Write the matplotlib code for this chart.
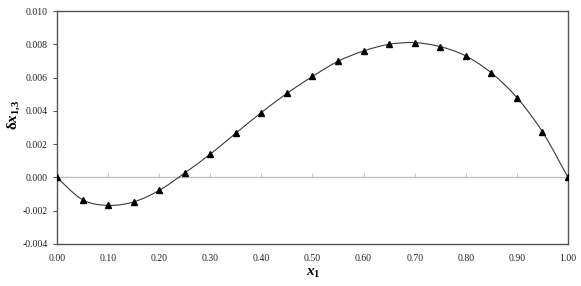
import numpy as np
import matplotlib.pyplot as plt
from matplotlib.path import Path
from matplotlib.patches import PathPatch

plt.rcParams['font.family'] = 'Liberation Serif'
plt.rcParams['mathtext.fontset'] = 'custom'
plt.rcParams['mathtext.rm'] = 'Liberation Serif:bold'
plt.rcParams['mathtext.it'] = 'Liberation Serif:italic:bold'
plt.rcParams['mathtext.bf'] = 'Liberation Serif:bold'

# data
x1 = [0.00, 0.05, 0.10, 0.15, 0.20, 0.25, 0.30, 0.35, 0.40, 0.45, 0.50,
      0.55, 0.60, 0.65, 0.70, 0.75, 0.80, 0.85, 0.90, 0.95, 1.00]
dx13 = [0.0, -0.00134, -0.00168, -0.00147, -0.00078, 0.00027, 0.0014, 0.00266,
        0.0039, 0.00505, 0.00607, 0.00698, 0.0076, 0.0080, 0.0081, 0.00786,
        0.0073, 0.00628, 0.0048, 0.00274, 0.0]
xticks = [0.0, 0.1, 0.2, 0.3, 0.4, 0.5, 0.6, 0.7, 0.8, 0.9, 1.0]
yticks = [-0.004, -0.002, 0.0, 0.002, 0.004, 0.006, 0.008, 0.010]

fig = plt.figure(figsize=(5.81, 2.86), dpi=100)
ax = fig.add_axes([0.0981, 0.1469, 0.8795, 0.8146])

# smoothed line (Excel style Catmull-Rom bezier through the points)
P = np.column_stack([x1, dx13])
ext = np.vstack([P[0], P, P[-1]])
verts = [tuple(P[0])]
codes = [Path.MOVETO]
for i in range(len(P) - 1):
    p0, p1, p2, p3 = ext[i], ext[i + 1], ext[i + 2], ext[i + 3]
    c1 = p1 + (p2 - p0) / 6
    c2 = p2 - (p3 - p1) / 6
    verts += [tuple(c1), tuple(c2), tuple(p2)]
    codes += [Path.CURVE4] * 3
ax.add_patch(PathPatch(Path(verts, codes), fill=False, edgecolor='#3a3a3a', lw=0.8, zorder=3))
ax.plot(x1, dx13, ls='none', marker='^', ms=3.8, color='black', zorder=4)

ax.set_xlim(0, 1)
ax.set_ylim(-0.004, 0.010)
ax.set_xticks(xticks)
ax.set_xticklabels(['%.2f' % t for t in xticks])
ax.set_yticks(yticks)
ax.set_yticklabels(['%.3f' % t for t in yticks])
ax.tick_params(axis='x', length=0, pad=7, labelsize=7, labelcolor='#222222')
ax.tick_params(axis='y', direction='out', length=3, width=0.8, color='#555555',
               labelsize=7, labelcolor='#222222')
for s in ax.spines.values():
    s.set_color('#555555')
    s.set_linewidth(1.0)

# zero line with small upward ticks
sec = ax.secondary_xaxis(0, transform=ax.transData)
sec.set_xticks(xticks)
sec.tick_params(direction='in', length=3, width=0.6, color='#c0c0c0', labelbottom=False)
sec.spines['bottom'].set_color('#c0c0c0')
sec.spines['bottom'].set_linewidth(1.0)

fig.text(0.539, 0.045, r'$x_{\mathrm{1}}$', fontsize=11, ha='center', va='center')
fig.text(0.024, 0.60, r'$\mathrm{\delta}x_{\mathrm{1{,}3}}$', fontsize=11, rotation=90,
         ha='center', va='center')

fig.savefig('out.png', dpi=100)
